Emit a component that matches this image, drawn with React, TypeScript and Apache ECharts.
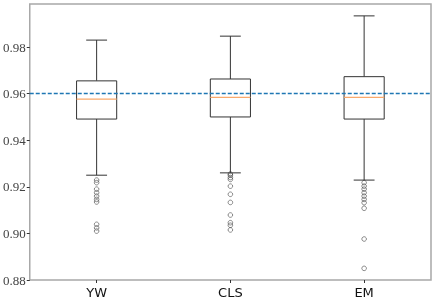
import React, { useEffect, useRef } from "react";
import * as echarts from "echarts";

const categories = ["YW", "CLS", "EM"];
const whiskerLow = [0.925, 0.926, 0.9229];
const q1 = [0.9491, 0.95, 0.9491];
const medians = [0.9577, 0.9584, 0.9584];
const q3 = [0.9655, 0.9663, 0.9673];
const whiskerHigh = [0.983, 0.9847, 0.9934];
const outliersYW = [0.9229, 0.9218, 0.919, 0.9175, 0.916, 0.9146, 0.9135, 0.9039, 0.9024, 0.901];
const outliersCLS = [0.9255, 0.925, 0.924, 0.9232, 0.9203, 0.9168, 0.9133, 0.9079, 0.9046, 0.9035, 0.9015];
const outliersEM = [0.9218, 0.9203, 0.919, 0.9175, 0.916, 0.9146, 0.9132, 0.9108, 0.8976, 0.885];
const referenceValue = 0.9611;
const yTicks = [0.88, 0.9, 0.92, 0.94, 0.96, 0.98];

export default function App() {
  const ref = useRef<HTMLDivElement>(null);
  useEffect(() => {
    if (!ref.current) return;
    const chart = echarts.init(ref.current, null, { renderer: "svg" });
    const boxData = categories.map((_, i) => [i, whiskerLow[i], q1[i], medians[i], q3[i], whiskerHigh[i]]);
    const outlierData: number[][] = [];
    [outliersYW, outliersCLS, outliersEM].forEach((arr, i) => arr.forEach((v) => outlierData.push([i, v])));
    const boxColor = "#333";
    chart.setOption({
      animation: false,
      grid: { left: 29, right: 5, top: 4, bottom: 20, show: true, borderColor: "#a8a8a8", borderWidth: 1.5, backgroundColor: "transparent" },
      xAxis: {
        type: "category",
        data: categories,
        boundaryGap: true,
        axisLine: { show: false },
        axisTick: { show: true, alignWithLabel: true, length: 3, lineStyle: { color: "#333" } },
        axisLabel: { color: "#111", fontFamily: "DejaVu Sans", fontSize: 13, margin: 6 },
        splitLine: { show: false },
      },
      yAxis: {
        type: "value",
        min: 0.88,
        max: 0.9985,
        interval: 0.02,
        axisLine: { show: false },
        axisTick: { show: true, length: 3, lineStyle: { color: "#333" }, customValues: yTicks },
        axisLabel: {
          color: "#444",
          fontFamily: "'Liberation Serif', 'DejaVu Serif', serif",
          fontSize: 13,
          margin: 4,
          customValues: yTicks,
          formatter: (v: number) => v.toFixed(2),
        },
        splitLine: { show: false },
      },
      series: [
        {
          type: "custom",
          data: boxData,
          encode: { x: 0, y: [1, 2, 3, 4, 5] },
          renderItem: (params: any, api: any) => {
            const idx = api.value(0);
            const band = api.size([1, 0])[0];
            const half = band * 0.15;
            const capHalf = band * 0.078;
            const pLow = api.coord([idx, api.value(1)]);
            const pQ1 = api.coord([idx, api.value(2)]);
            const pMed = api.coord([idx, api.value(3)]);
            const pQ3 = api.coord([idx, api.value(4)]);
            const pHigh = api.coord([idx, api.value(5)]);
            const x = pLow[0];
            const ls = { stroke: boxColor, lineWidth: 1, fill: null };
            return {
              type: "group",
              children: [
                { type: "line", shape: { x1: x, y1: pLow[1], x2: x, y2: pQ1[1] }, style: ls },
                { type: "line", shape: { x1: x, y1: pQ3[1], x2: x, y2: pHigh[1] }, style: ls },
                { type: "line", shape: { x1: x - capHalf, y1: pLow[1], x2: x + capHalf, y2: pLow[1] }, style: ls },
                { type: "line", shape: { x1: x - capHalf, y1: pHigh[1], x2: x + capHalf, y2: pHigh[1] }, style: ls },
                { type: "rect", shape: { x: x - half, y: pQ3[1], width: half * 2, height: pQ1[1] - pQ3[1] }, style: { stroke: boxColor, lineWidth: 1, fill: "#fff" } },
                { type: "line", shape: { x1: x - half, y1: pMed[1], x2: x + half, y2: pMed[1] }, style: { stroke: "#f9a86a", lineWidth: 1.2 } },
              ],
            };
          },
          z: 2,
        },
        {
          type: "scatter",
          data: outlierData,
          symbol: "circle",
          symbolSize: 4.6,
          itemStyle: { color: "rgba(255,255,255,0)", borderColor: "#333", borderWidth: 0.7 },
          z: 3,
        },
        {
          type: "line",
          data: [],
          markLine: {
            silent: true,
            symbol: "none",
            label: { show: false },
            lineStyle: { color: "#1f77b4", type: [4, 2], width: 1.3, opacity: 1 },
            emphasis: { disabled: true },
            data: [{ yAxis: referenceValue }],
          },
          z: 5,
        },
      ],
    });
    return () => chart.dispose();
  }, []);
  return <div ref={ref} style={{ position: "fixed", left: 0, top: 0, width: 436, height: 300 }} />;
}
